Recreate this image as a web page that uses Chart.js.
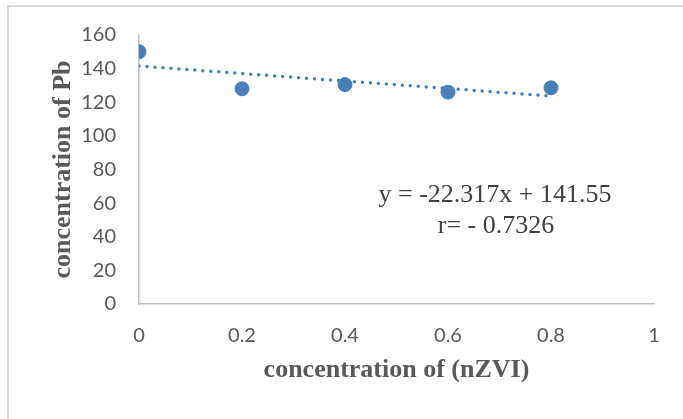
<!DOCTYPE html>
<html>
<head>
<meta charset="utf-8">
<script src="https://cdn.jsdelivr.net/npm/chart.js@4.4.1/dist/chart.umd.min.js"></script>
<style>
  html, body { margin: 0; padding: 0; background: #fff; }
  #wrap { position: relative; width: 683px; height: 419px; overflow: hidden; }
  #frame {
    position: absolute; left: 7px; top: 5px; width: 700px; height: 440px;
    border: 2px solid #d9d9d9; box-sizing: border-box;
  }
  canvas { position: absolute; left: 0; top: 0; }
</style>
</head>
<body>
<div id="wrap">
  <div id="frame"></div>
  <canvas id="chart" width="683" height="419"></canvas>
</div>
<script>
// Pb concentration vs nZVI dose, with linear trendline
const xValues = [0, 0.2, 0.4, 0.6, 0.8];
const pbValues = [150, 128, 130.5, 126, 128.6];
const trendX = [0, 0.8];
const trendY = [141.55, 123.70];
const yTicks = [0, 20, 40, 60, 80, 100, 120, 140, 160];
const xTicks = [0, 0.2, 0.4, 0.6, 0.8, 1];
const equationLines = ['y = -22.317x + 141.55', 'r= - 0.7326'];

const blue = '#4a7ebb';
const axisGray = '#bfbfbf';
const tickColor = '#595959';
const bottomPad = 33;

const annotationPlugin = {
    id: 'equation',
    afterDraw(chart) {
        const ctx = chart.ctx;
        ctx.save();
        ctx.font = '26px "Liberation Serif", "Times New Roman", serif';
        ctx.fillStyle = '#404040';
        ctx.textAlign = 'center';
        ctx.textBaseline = 'middle';
        ctx.fillText(equationLines[0], 495, 195);
        ctx.fillText(equationLines[1], 496, 226);
        ctx.restore();
    }
};

new Chart(document.getElementById('chart'), {
    type: 'scatter',
    data: {
        datasets: [{
            label: 'Pb',
            data: xValues.map((x, i) => ({ x: x, y: pbValues[i] })),
            backgroundColor: blue,
            borderColor: blue,
            pointRadius: 7,
            pointHoverRadius: 7,
            order: 1
        }, {
            label: 'Linear',
            type: 'line',
            data: trendX.map((x, i) => ({ x: x, y: trendY[i] })),
            borderColor: blue,
            borderWidth: 3.5,
            borderDash: [0, 8],
            borderCapStyle: 'round',
            pointRadius: 0,
            fill: false,
            order: 2
        }]
    },
    options: {
        responsive: false,
        animation: false,
        layout: {
            padding: { left: 30, top: 34, right: 29, bottom: bottomPad }
        },
        plugins: {
            legend: { display: false },
            tooltip: { enabled: false }
        },
        scales: {
            x: {
                type: 'linear',
                min: 0,
                max: 1,
                afterBuildTicks: function(scale) {
                    scale.ticks = xTicks.map(v => ({ value: v }));
                },
                afterFit: function(scale) {
                    scale.height = 419 - 304 - bottomPad;
                },
                grid: { display: false, drawTicks: false },
                border: { display: true, color: axisGray, width: 1.5 },
                ticks: {
                    color: tickColor,
                    padding: 20,
                    font: { family: 'Lato', size: 20 },
                    callback: v => String(v)
                },
                title: {
                    display: true,
                    text: 'concentration of (nZVI)',
                    color: '#595959',
                    padding: { top: 0, bottom: 0 },
                    font: { family: '"Liberation Serif", "Times New Roman", serif', size: 26, weight: 'bold' }
                }
            },
            y: {
                min: 0,
                max: 160,
                afterBuildTicks: function(scale) {
                    scale.ticks = yTicks.map(v => ({ value: v }));
                },
                afterFit: function(scale) {
                    scale.width = 139 - 30;
                },
                grid: { display: false, drawTicks: false },
                border: { display: true, color: axisGray, width: 1.5 },
                ticks: {
                    color: tickColor,
                    padding: 23,
                    font: { family: 'Lato', size: 20 }
                },
                title: {
                    display: true,
                    text: 'concentration of Pb',
                    color: '#595959',
                    padding: { top: 18, bottom: 0 },
                    font: { family: '"Liberation Serif", "Times New Roman", serif', size: 26, weight: 'bold' }
                }
            }
        }
    },
    plugins: [annotationPlugin]
});
</script>
</body>
</html>
